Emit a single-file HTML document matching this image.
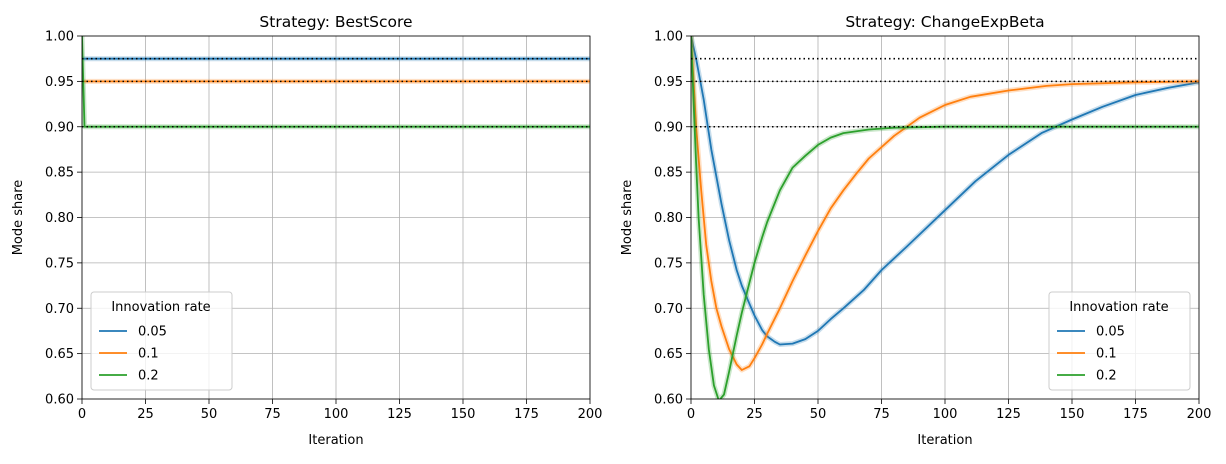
<!DOCTYPE html>
<html><head><meta charset="utf-8"><style>
body{margin:0;background:#fff;font-family:"Liberation Sans","DejaVu Sans",sans-serif;}
svg text{font-family:"DejaVu Sans","Liberation Sans",sans-serif;fill:#000}
</style></head><body>
<svg id="chart" width="1226" height="459" xmlns="http://www.w3.org/2000/svg"></svg>
<script>
const xTicks=[0,25,50,75,100,125,150,175,200];
const yTicks=[0.60,0.65,0.70,0.75,0.80,0.85,0.90,0.95,1.00];
const refLines=[0.975,0.95,0.9];
const rates=["0.05","0.1","0.2"];
const colors=["#1f77b4","#ff7f0e","#2ca02c"];
// BestScore panel
const bsIters=[0,1,200];
const bsBlue=[0.975,0.975,0.975];
const bsOrange=[0.95,0.95,0.95];
const bsGreen=[1.0,0.9,0.9];
// ChangeExpBeta panel
const ceBlueX=[0,2,5,8,10,12,15,18,20,23,25,28,30,33,35,40,45,50,55,60,68,75,85,100,112,125,138,150,162,175,188,200];
const ceBlueY=[1.0,0.975,0.93,0.875,0.845,0.815,0.775,0.742,0.725,0.705,0.692,0.676,0.669,0.663,0.660,0.661,0.666,0.675,0.688,0.700,0.720,0.742,0.768,0.808,0.840,0.869,0.893,0.908,0.922,0.935,0.943,0.949];
const ceOrangeX=[0,2,4,6,8,10,12,15,18,20,23,25,28,30,35,40,45,50,55,60,65,70,80,90,100,110,125,140,150,175,200];
const ceOrangeY=[1.0,0.90,0.83,0.77,0.73,0.70,0.68,0.655,0.638,0.632,0.636,0.645,0.66,0.672,0.70,0.73,0.758,0.785,0.81,0.83,0.848,0.865,0.89,0.91,0.924,0.933,0.94,0.945,0.947,0.949,0.95];
const ceGreenX=[0,1,2,3,5,7,9,11,13,15,18,20,23,25,28,30,35,40,45,50,55,60,70,80,100,150,200];
const ceGreenY=[1.0,0.93,0.86,0.80,0.715,0.655,0.615,0.598,0.605,0.63,0.67,0.695,0.728,0.75,0.778,0.795,0.83,0.855,0.868,0.88,0.888,0.893,0.897,0.899,0.9,0.9,0.9];

const NS="http://www.w3.org/2000/svg";
const svg=document.getElementById('chart');
function mk(t,a,p){const e=document.createElementNS(NS,t);for(const k in a)e.setAttribute(k,a[k]);(p||svg).appendChild(e);return e;}
const defs=mk('defs',{});
const T=36,B=399;
let pid=0;
function panel(L,R,title,series,legendX,legendY,name){
  const g=mk('g',{});
  
  
  const cid='clip'+(pid++);
  const cp=mk('clipPath',{id:cid},defs);mk('rect',{x:L,y:T,width:R-L,height:B-T},cp);
  const sx=v=>L+(v-0)/200*(R-L), sy=v=>B-(v-0.6)/0.4*(B-T);
  xTicks.forEach(t=>{const x=sx(t);
    const gl=mk('line',{x1:x,x2:x,y1:T,y2:B,stroke:'#b0b0b0','stroke-width':0.8},g);
    
    mk('line',{x1:x,x2:x,y1:B,y2:B+5,stroke:'#000','stroke-width':0.8},g);
    const tx=mk('text',{x:x,y:B+19,'text-anchor':'middle','font-size':13},g);tx.textContent=t;
    });
  yTicks.forEach(t=>{const y=sy(t);
    const gl=mk('line',{x1:L,x2:R,y1:y,y2:y,stroke:'#b0b0b0','stroke-width':0.8},g);
    
    mk('line',{x1:L-5,x2:L,y1:y,y2:y,stroke:'#000','stroke-width':0.8},g);
    const tx=mk('text',{x:L-8,y:y+4.5,'text-anchor':'end','font-size':13},g);tx.textContent=t.toFixed(2);
    });
  const sg=mk('g',{'clip-path':`url(#${cid})`},g);
  series.forEach((s,i)=>{
    const d=s.x.map((v,j)=>(j?'L':'M')+sx(v).toFixed(1)+','+sy(s.y[j]).toFixed(1)).join('');
    const band=mk('path',{d:d,fill:'none',stroke:colors[i],'stroke-opacity':0.25,'stroke-width':5,'stroke-linejoin':'round'},sg);
    
    const p=mk('path',{d:d,fill:'none',stroke:colors[i],'stroke-width':1.8,'stroke-linejoin':'round'},sg);
    });
  refLines.forEach(r=>{const y=sy(r);
    const l=mk('line',{x1:L,x2:R,y1:y,y2:y,stroke:'#000','stroke-width':1.6,'stroke-dasharray':'1.5,3'},g);
    });
  const fr=mk('rect',{x:L,y:T,width:R-L,height:B-T,fill:'none',stroke:'#000','stroke-width':0.8},g);
  
  const ti=mk('text',{x:(L+R)/2,y:T-9,'text-anchor':'middle','font-size':15.5},g);ti.textContent=title;
  
  const xl=mk('text',{x:(L+R)/2,y:B+45,'text-anchor':'middle','font-size':13},g);xl.textContent='Iteration';
  
  const yl=mk('text',{x:0,y:0,'text-anchor':'middle','font-size':13,transform:`translate(${L-60},${(T+B)/2}) rotate(-90)`},g);yl.textContent='Mode share';
  
  const lg=mk('g',{},g);
  mk('rect',{x:legendX,y:legendY,width:141,height:98,rx:3,fill:'#fff','fill-opacity':0.8,stroke:'#ccc'},lg);
  const lt=mk('text',{x:legendX+70,y:legendY+19,'text-anchor':'middle','font-size':13},lg);lt.textContent='Innovation rate';
  
  rates.forEach((r,i)=>{const y=legendY+39+i*22;
    const e=mk('g',{},lg);
    mk('line',{x1:legendX+8,x2:legendX+36,y1:y,y2:y,stroke:colors[i],'stroke-width':1.8},e);
    const t=mk('text',{x:legendX+47,y:y+4.5,'font-size':13},e);t.textContent=r;});
}
panel(82,590,'Strategy: BestScore',[{x:bsIters,y:bsBlue},{x:bsIters,y:bsOrange},{x:bsIters,y:bsGreen}],91,292,'bestscore-panel');
panel(691,1199,'Strategy: ChangeExpBeta',[{x:ceBlueX,y:ceBlueY},{x:ceOrangeX,y:ceOrangeY},{x:ceGreenX,y:ceGreenY}],1049,292,'changeexpbeta-panel');
</script>
</body></html>
